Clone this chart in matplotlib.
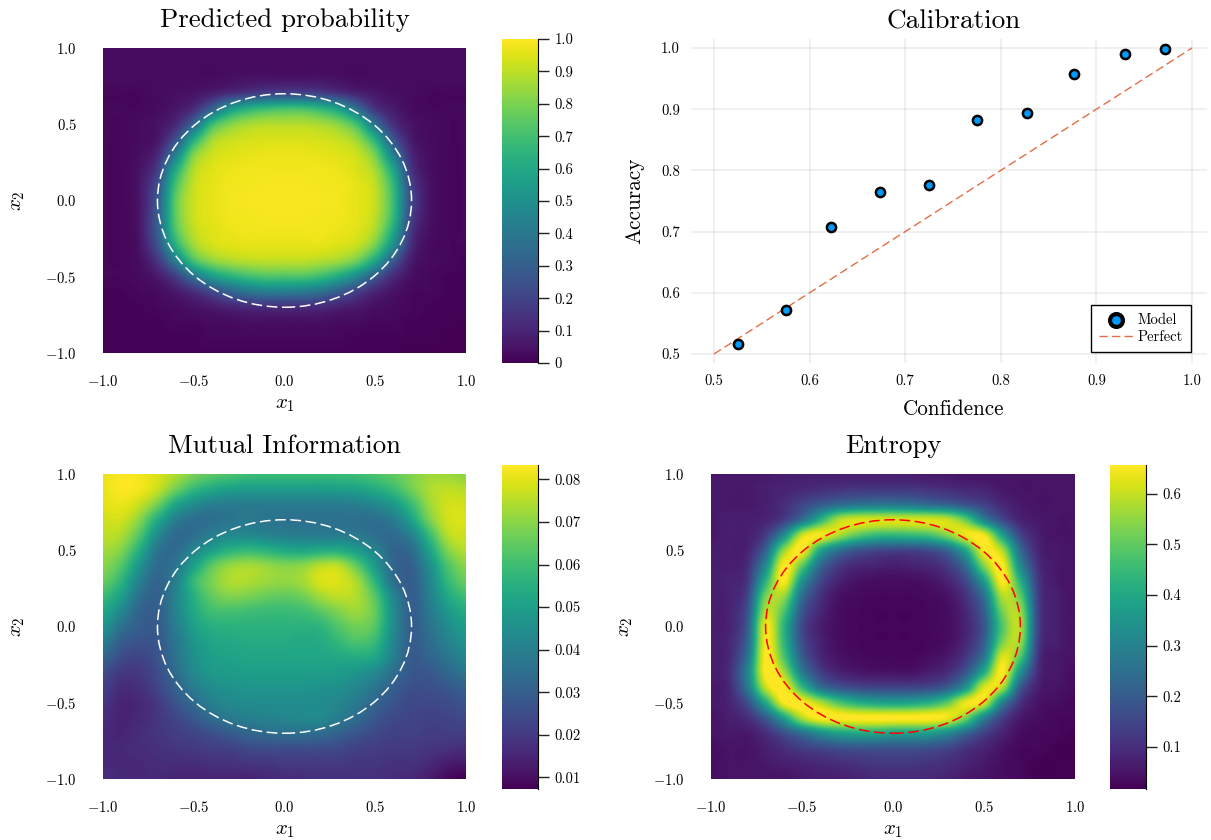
"""Classifier uncertainty panels: probability, calibration, mutual information, entropy."""

import matplotlib
matplotlib.use("Agg")
import matplotlib.pyplot as plt
from matplotlib.patches import Circle

plt.rcParams["font.family"] = ["cmr10", "DejaVu Sans"]
plt.rcParams["mathtext.fontset"] = "cm"
plt.rcParams["axes.formatter.use_mathtext"] = True
plt.rcParams["axes.unicode_minus"] = False

WIDTH, HEIGHT = 1211, 840

# rows run from x2 = 1.0 down to -1.0, columns from x1 = -1.0 to 1.0, both in steps of 0.1
PROBABILITY = [
  [.03, .03, .03, .03, .03, .03, .03, .03, .03, .03, .03, .03, .03, .03, .03, .03, .03, .03, .03, .03, .03],
  [.03, .03, .03, .03, .03, .03, .03, .03, .03, .03, .03, .03, .03, .03, .03, .03, .03, .03, .03, .03, .03],
  [.03, .03, .03, .03, .03, .03, .03, .04, .05, .05, .05, .05, .05, .04, .03, .03, .03, .03, .03, .03, .03],
  [.02, .02, .02, .03, .04, .05, .08, .12, .16, .19, .20, .20, .18, .14, .09, .06, .04, .03, .02, .02, .02],
  [.02, .02, .02, .03, .06, .12, .30, .52, .62, .67, .69, .69, .64, .55, .35, .14, .07, .03, .02, .02, .02],
  [.02, .02, .03, .05, .11, .32, .66, .80, .86, .88, .88, .88, .86, .81, .68, .36, .13, .05, .03, .02, .02],
  [.02, .02, .03, .06, .24, .60, .85, .91, .93, .94, .94, .94, .93, .91, .84, .62, .26, .07, .03, .02, .02],
  [.02, .02, .04, .11, .42, .80, .92, .95, .96, .97, .97, .97, .96, .95, .92, .78, .42, .11, .04, .02, .02],
  [.02, .02, .05, .18, .60, .88, .95, .97, .98, .98, .98, .98, .98, .97, .94, .86, .58, .15, .04, .02, .02],
  [.02, .02, .06, .25, .70, .91, .96, .98, .98, .99, .99, .99, .98, .98, .96, .90, .66, .20, .05, .02, .02],
  [.02, .02, .06, .28, .75, .92, .96, .98, .99, .99, .99, .99, .99, .98, .96, .91, .68, .22, .05, .02, .02],
  [.02, .02, .06, .30, .75, .92, .96, .98, .98, .99, .99, .99, .98, .98, .96, .90, .67, .20, .05, .02, .02],
  [.02, .02, .06, .30, .72, .90, .95, .97, .98, .98, .98, .98, .98, .97, .95, .87, .60, .16, .04, .02, .02],
  [.02, .02, .05, .25, .62, .85, .93, .95, .96, .96, .96, .96, .96, .94, .91, .78, .48, .12, .03, .02, .02],
  [.02, .02, .04, .15, .42, .70, .82, .87, .89, .90, .90, .90, .88, .85, .77, .58, .28, .07, .03, .02, .01],
  [.02, .02, .03, .07, .18, .38, .54, .63, .69, .72, .72, .72, .68, .60, .47, .28, .12, .04, .02, .01, .01],
  [.01, .01, .02, .03, .07, .13, .22, .32, .39, .42, .42, .41, .37, .29, .19, .10, .05, .02, .02, .01, .01],
  [.01, .01, .01, .02, .03, .05, .07, .10, .12, .13, .13, .13, .12, .09, .07, .04, .03, .02, .01, .01, .01],
  [.01, .01, .01, .01, .02, .02, .03, .03, .04, .04, .04, .04, .04, .03, .03, .02, .02, .01, .01, .01, .00],
  [.01, .01, .01, .01, .01, .01, .02, .02, .02, .02, .02, .02, .02, .02, .01, .01, .01, .01, .01, .00, .00],
  [.01, .01, .01, .01, .01, .01, .01, .01, .01, .01, .01, .01, .01, .01, .01, .01, .01, .00, .00, .00, .00],
]

MUTUAL_INFO = [
  [.081, .083, .082, .079, .074, .068, .064, .062, .060, .059, .059, .059, .059, .059, .060, .062, .065, .069, .072, .072, .070],
  [.081, .083, .082, .077, .067, .058, .053, .050, .049, .049, .049, .049, .049, .050, .051, .054, .059, .067, .074, .076, .075],
  [.080, .081, .077, .067, .052, .044, .040, .039, .039, .039, .039, .039, .039, .039, .040, .043, .048, .059, .072, .078, .078],
  [.078, .078, .070, .054, .040, .035, .035, .037, .038, .037, .036, .036, .036, .036, .035, .035, .039, .051, .068, .078, .079],
  [.076, .074, .063, .044, .034, .035, .040, .043, .043, .041, .040, .039, .039, .039, .038, .035, .034, .041, .059, .075, .078],
  [.073, .069, .055, .037, .034, .042, .050, .056, .058, .056, .053, .052, .054, .054, .049, .041, .032, .034, .051, .069, .075],
  [.070, .063, .047, .034, .037, .050, .064, .071, .073, .071, .069, .070, .075, .075, .064, .048, .033, .031, .045, .062, .070],
  [.066, .057, .041, .032, .040, .058, .068, .074, .074, .072, .071, .073, .079, .079, .073, .056, .035, .030, .042, .058, .066],
  [.059, .050, .036, .031, .041, .055, .065, .069, .068, .066, .065, .067, .073, .076, .074, .063, .042, .030, .040, .053, .060],
  [.053, .043, .032, .030, .041, .053, .060, .061, .060, .059, .059, .060, .064, .069, .072, .065, .044, .030, .038, .048, .054],
  [.047, .036, .030, .029, .039, .050, .055, .056, .056, .056, .056, .056, .057, .063, .067, .063, .044, .030, .036, .044, .050],
  [.040, .030, .027, .028, .037, .047, .052, .053, .054, .054, .054, .053, .054, .058, .062, .058, .042, .030, .034, .041, .046],
  [.032, .025, .023, .027, .036, .045, .050, .051, .052, .052, .052, .052, .052, .053, .054, .052, .040, .029, .032, .037, .042],
  [.025, .020, .020, .025, .034, .043, .048, .049, .050, .050, .050, .050, .050, .049, .047, .043, .035, .028, .028, .033, .037],
  [.021, .017, .018, .023, .031, .039, .044, .046, .047, .047, .047, .047, .046, .045, .042, .037, .030, .026, .026, .028, .031],
  [.019, .015, .016, .020, .027, .034, .040, .043, .044, .044, .044, .044, .044, .042, .038, .032, .027, .024, .024, .025, .027],
  [.017, .015, .016, .019, .023, .028, .034, .038, .040, .041, .042, .043, .043, .039, .034, .028, .024, .023, .022, .023, .024],
  [.016, .015, .017, .019, .021, .023, .026, .029, .032, .034, .035, .035, .034, .031, .027, .024, .022, .022, .021, .021, .021],
  [.016, .016, .017, .018, .019, .020, .021, .022, .024, .025, .025, .025, .025, .024, .022, .021, .020, .020, .019, .018, .017],
  [.016, .016, .016, .017, .017, .017, .018, .018, .019, .019, .020, .020, .020, .020, .019, .019, .018, .018, .016, .013, .012],
  [.017, .016, .016, .016, .015, .015, .015, .015, .015, .016, .017, .017, .018, .018, .018, .018, .017, .016, .013, .009, .007],
]

ENTROPY = [
  [.06, .06, .06, .06, .07, .07, .07, .07, .07, .07, .07, .07, .06, .06, .05, .05, .05, .05, .05, .05, .05],
  [.06, .06, .06, .07, .08, .09, .10, .11, .12, .12, .12, .12, .11, .10, .09, .08, .06, .05, .05, .05, .05],
  [.06, .06, .06, .07, .10, .15, .20, .24, .26, .27, .27, .26, .24, .22, .18, .14, .09, .06, .05, .05, .05],
  [.06, .07, .07, .08, .13, .25, .42, .58, .62, .62, .62, .62, .62, .60, .50, .30, .16, .08, .06, .05, .05],
  [.06, .07, .07, .13, .32, .60, .65, .58, .50, .45, .44, .45, .47, .54, .64, .64, .38, .15, .07, .05, .05],
  [.07, .07, .08, .22, .55, .66, .40, .26, .19, .16, .15, .15, .17, .23, .40, .65, .58, .24, .08, .06, .05],
  [.07, .07, .10, .32, .66, .50, .24, .13, .09, .08, .07, .08, .09, .13, .25, .54, .66, .32, .10, .06, .05],
  [.07, .08, .12, .42, .66, .35, .16, .08, .05, .04, .04, .04, .05, .08, .16, .37, .66, .42, .12, .06, .05],
  [.07, .08, .15, .52, .56, .25, .11, .05, .035, .03, .03, .03, .035, .05, .11, .26, .58, .50, .13, .07, .05],
  [.07, .08, .18, .58, .48, .19, .09, .04, .03, .025, .025, .025, .03, .04, .09, .21, .52, .56, .14, .07, .05],
  [.07, .08, .20, .64, .43, .16, .07, .04, .03, .025, .025, .025, .03, .04, .08, .19, .48, .58, .14, .07, .05],
  [.07, .09, .22, .65, .44, .17, .08, .04, .03, .025, .025, .025, .03, .04, .09, .21, .52, .56, .13, .07, .05],
  [.07, .09, .26, .66, .48, .21, .09, .05, .035, .03, .03, .03, .04, .06, .12, .27, .62, .48, .11, .06, .05],
  [.07, .10, .30, .66, .57, .29, .14, .08, .06, .05, .05, .05, .07, .10, .19, .41, .66, .34, .09, .06, .04],
  [.06, .09, .27, .60, .66, .45, .26, .19, .16, .15, .15, .15, .16, .21, .35, .62, .58, .20, .07, .05, .04],
  [.06, .08, .17, .40, .65, .66, .58, .48, .42, .39, .38, .39, .42, .50, .64, .62, .30, .11, .05, .04, .03],
  [.05, .07, .10, .20, .38, .58, .66, .66, .66, .66, .66, .66, .66, .64, .52, .30, .14, .06, .04, .03, .03],
  [.05, .06, .06, .10, .17, .25, .33, .38, .40, .40, .38, .38, .37, .32, .23, .14, .08, .04, .03, .03, .02],
  [.04, .05, .05, .07, .10, .13, .15, .17, .18, .18, .18, .18, .17, .15, .11, .08, .05, .03, .03, .02, .02],
  [.04, .05, .05, .06, .07, .08, .09, .10, .11, .12, .12, .12, .11, .10, .08, .06, .04, .03, .02, .02, .02],
  [.04, .05, .05, .05, .05, .06, .07, .07, .08, .09, .09, .09, .09, .08, .06, .05, .04, .03, .02, .02, .02],
]

CONFIDENCE = [.525, .575, .622, .674, .725, .775, .827, .877, .930, .972]
ACCURACY = [.517, .572, .708, .765, .776, .882, .894, .957, .990, .999]
PERFECT = [0.5, 1.0]

AXIS_TICKS = [-1.0, -0.5, 0.0, 0.5, 1.0]
AXIS_LABELS = ["$-1.0$", "$-0.5$", "$0.0$", "$0.5$", "$1.0$"]
PROB_TICKS = [0, .1, .2, .3, .4, .5, .6, .7, .8, .9, 1.0]
PROB_LABELS = ["0", "0.1", "0.2", "0.3", "0.4", "0.5", "0.6", "0.7", "0.8", "0.9", "1.0"]
MI_TICKS = [.01, .02, .03, .04, .05, .06, .07, .08]
ENTROPY_TICKS = [.1, .2, .3, .4, .5, .6]
CAL_X_TICKS = [.5, .6, .7, .8, .9, 1.0]
CAL_Y_TICKS = [.5, .6, .7, .8, .9, 1.0]
BOUNDARY_RADIUS = 0.7
TICK_SIZE = 10.6


def _box(left, top, right, bottom):
  return [left / WIDTH, 1 - bottom / HEIGHT, (right - left) / WIDTH, (bottom - top) / HEIGHT]


def _heatmap(fig, grid, title, frame, cbar_frame, clim, ticks, tick_labels, ring):
  ax = fig.add_axes(_box(*frame))
  step = 0.05
  image = ax.imshow(
    grid,
    cmap="viridis",
    vmin=clim[0],
    vmax=clim[1],
    extent=(-1 - step, 1 + step, -1 - step, 1 + step),
    aspect="auto",
    interpolation="catrom",
  )
  ax.set_xlim(-1, 1)
  ax.set_ylim(-1, 1)
  ax.add_patch(Circle((0, 0), BOUNDARY_RADIUS, fill=False, edgecolor=ring, linewidth=1.1, linestyle=(0, (7, 3))))
  ax.set_xticks(AXIS_TICKS, AXIS_LABELS)
  ax.set_yticks(AXIS_TICKS, AXIS_LABELS)
  ax.tick_params(length=0, labelsize=TICK_SIZE)
  ax.tick_params(axis="x", pad=15)
  ax.tick_params(axis="y", pad=19)
  for spine in ax.spines.values():
    spine.set_visible(False)
  ax.set_xlabel("$x_1$", fontsize=15, labelpad=5)
  ax.set_ylabel("$x_2$", fontsize=15, labelpad=13)
  ax.set_title(title, fontsize=19.3, pad=15)

  cax = fig.add_axes(_box(*cbar_frame))
  cbar = fig.colorbar(image, cax=cax)
  cbar.set_ticks(ticks, labels=tick_labels)
  cbar.ax.tick_params(length=8, width=1, labelsize=TICK_SIZE, pad=4, color="#222222")
  cbar.outline.set_visible(False)
  cax.spines["right"].set_visible(True)
  cax.spines["right"].set_color("black")
  return ax


def main():
  fig = plt.figure(figsize=(WIDTH / 100, HEIGHT / 100), dpi=100)

  _heatmap(fig, PROBABILITY, "Predicted probability", (103, 48, 466, 353), (502, 39, 538, 363),
           (0, 1), PROB_TICKS, PROB_LABELS, "white")
  _heatmap(fig, MUTUAL_INFO, "Mutual Information", (103, 474, 466, 779), (502, 465, 538, 789),
           (.00726, .0834), MI_TICKS, [f"{v:.2f}" for v in MI_TICKS], "white")
  _heatmap(fig, ENTROPY, "Entropy", (711, 474, 1075, 779), (1110, 465, 1146, 789),
           (.017, .657), ENTROPY_TICKS, [f"{v:.1f}" for v in ENTROPY_TICKS], "red")

  ax = fig.add_axes(_box(691, 39, 1207, 363))
  ax.plot(PERFECT, PERFECT, color="#E26F46", linewidth=1, linestyle=(0, (6, 3)), label="Perfect", zorder=2)
  ax.scatter(CONFIDENCE, ACCURACY, s=44, color="#009AFA", edgecolor="black", linewidth=1.8, label="Model", zorder=3)
  ax.set_xlim(.476, 1.0157)
  ax.set_ylim(.4853, 1.0147)
  ax.set_xticks(CAL_X_TICKS, [f"{v:.1f}" for v in CAL_X_TICKS])
  ax.set_yticks(CAL_Y_TICKS, [f"{v:.1f}" for v in CAL_Y_TICKS])
  ax.tick_params(length=0, labelsize=TICK_SIZE, pad=8)
  ax.grid(True, color="black", alpha=0.07, linewidth=1.2)
  ax.set_axisbelow(True)
  for spine in ax.spines.values():
    spine.set_visible(False)
  ax.set_xlabel("Confidence", fontsize=15.2, labelpad=8.5, x=0.509)
  ax.set_ylabel("Accuracy", fontsize=15.4, labelpad=12)
  ax.set_title("Calibration", fontsize=19.6, pad=7.5, x=0.509)
  handles, labels = ax.get_legend_handles_labels()
  legend = ax.legend(
    handles[::-1],
    labels[::-1],
    loc="lower right",
    bbox_to_anchor=((1191 - 691) / 516, (363 - 352) / 324),
    borderaxespad=0,
    fontsize=10.6,
    frameon=True,
    fancybox=False,
    edgecolor="black",
    framealpha=1,
    labelspacing=0.25,
    handlelength=2.3,
    handletextpad=0.3,
    borderpad=0.55,
    markerscale=1.4,
  )
  legend.legend_handles[0].set_linewidth(3)

  fig.savefig("out.png", dpi=100, facecolor="white")
  plt.close(fig)


if __name__ == "__main__":
  main()
